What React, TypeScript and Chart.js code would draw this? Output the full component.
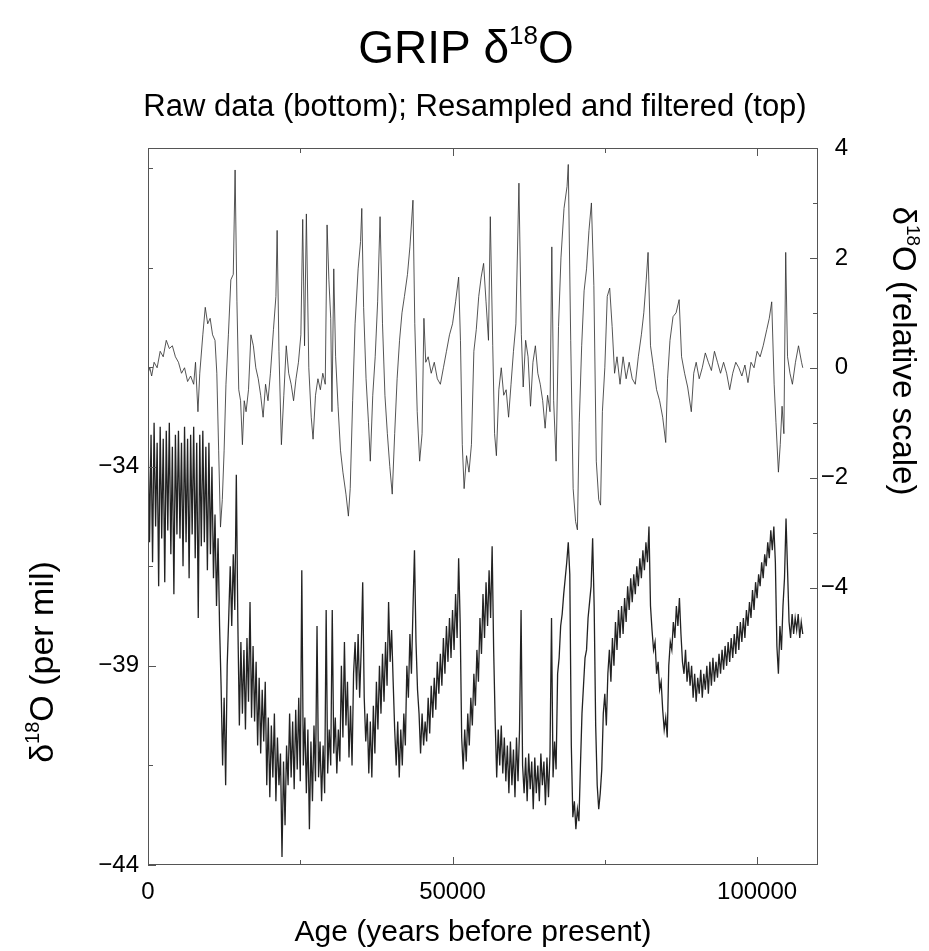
import React, { useEffect, useRef } from 'react';
import { Chart, registerables } from 'chart.js';

Chart.register(...registerables);

const FONT = '"Liberation Sans", Arial, Helvetica, sans-serif';

// Raw GRIP d18O (per mil), sampled every RAW_STEP_YEARS from 0 yr BP
const RAW_STEP_YEARS = 250;
const rawD18O = [
  -33.0, -35.9, -33.2, -36.4, -32.9, -35.5, -33.4, -37.0, -33.0, -35.8, -33.3, -36.9, -33.1, -35.6, -32.9, -36.2, -33.5, -37.2, -33.2, -35.7,
  -33.1, -35.8, -33.4, -36.5, -33.0, -35.9, -33.3, -36.8, -33.2, -35.7, -33.0, -36.3, -33.4, -37.8, -33.2, -36.0, -33.1, -35.9, -33.5, -36.6,
  -33.4, -36.2, -34.0, -36.8, -35.2, -37.5, -35.8, -38.0, -39.5, -41.5, -39.8, -42.0, -39.0, -37.8, -36.5, -38.0, -36.2, -37.6, -34.2, -37.9,
  -40.5, -38.4, -40.2, -38.6, -40.6, -38.3, -39.9, -37.4, -40.3, -38.5, -40.4, -38.9, -41.0, -39.3, -41.2, -39.6, -40.9, -39.4, -42.0, -40.3,
  -42.3, -40.5, -41.8, -40.2, -42.4, -40.8, -42.0, -41.2, -43.8, -41.4, -43.0, -41.0, -42.0, -40.2, -41.8, -40.4, -42.1, -40.1, -41.6, -39.8,
  -41.9, -36.6, -41.5, -40.3, -42.2, -40.6, -43.1, -40.9, -42.4, -40.5, -41.9, -38.0, -41.8, -40.9, -42.4, -41.0, -42.2, -37.6, -41.7, -40.6,
  -41.5, -37.6, -41.2, -40.3, -41.7, -40.6, -41.4, -39.0, -40.8, -38.4, -40.5, -39.4, -41.3, -40.0, -41.5, -39.2, -38.4, -39.6, -38.2, -39.8,
  -38.6, -36.9, -39.8, -40.9, -40.2, -41.7, -40.4, -41.8, -40.0, -41.2, -39.4, -40.6, -39.0, -40.2, -38.7, -39.9, -38.4, -39.5, -37.4, -38.9,
  -38.1, -39.4, -40.6, -41.5, -40.4, -41.8, -40.6, -41.5, -40.2, -41.0, -39.0, -39.8, -38.2, -39.2, -37.6, -36.1, -38.4, -39.6, -40.2, -41.2,
  -40.2, -41.0, -40.4, -40.9, -39.8, -40.7, -39.5, -40.3, -39.3, -40.1, -38.9, -39.7, -38.7, -39.5, -38.3, -39.2, -38.0, -38.9, -37.8, -38.8,
  -37.6, -38.6, -37.2, -38.3, -36.3, -37.9, -40.8, -41.6, -40.6, -41.4, -40.2, -41.0, -39.8, -40.5, -39.2, -40.0, -38.6, -39.4, -37.8, -38.7,
  -37.2, -38.3, -36.9, -38.0, -36.6, -37.8, -36.0, -38.6, -40.4, -41.8, -40.6, -41.5, -40.5, -41.7, -40.8, -41.9, -41.0, -42.2, -40.9, -42.0,
  -41.1, -42.3, -40.8, -41.9, -40.6, -37.6, -41.5, -42.2, -41.3, -42.4, -41.2, -42.1, -41.4, -42.6, -41.3, -42.2, -41.5, -42.4, -41.2, -42.0,
  -41.4, -42.5, -41.3, -42.3, -41.2, -37.8, -41.8, -40.9, -41.6, -39.2, -38.8, -38.0, -37.7, -37.2, -36.8, -36.4, -35.9, -36.7, -41.0, -42.8,
  -42.4, -43.1, -42.6, -42.9, -41.5, -40.2, -39.5, -38.8, -38.6, -37.8, -37.4, -37.0, -35.8, -37.5, -40.5, -42.0, -42.6, -42.2, -41.6, -40.2,
  -39.7, -40.5, -39.2, -38.6, -39.4, -38.3, -39.0, -37.9, -38.6, -37.6, -38.3, -37.5, -38.2, -37.3, -37.9, -37.0, -37.6, -36.8, -37.4, -36.7,
  -37.2, -36.5, -37.0, -36.3, -36.8, -36.1, -36.6, -35.9, -36.4, -35.5, -37.5, -38.1, -38.6, -38.4, -39.2, -38.9, -39.6, -39.4, -40.1, -40.6,
  -40.3, -40.8, -39.0, -38.4, -38.6, -37.9, -38.3, -37.5, -38.0, -37.3, -38.2, -38.9, -39.2, -38.6, -39.4, -38.9, -39.5, -39.0, -39.8, -39.2,
  -39.9, -39.3, -39.7, -39.1, -39.8, -39.2, -39.6, -39.0, -39.7, -38.9, -39.5, -38.8, -39.4, -38.9, -39.3, -38.7, -39.2, -38.6, -39.1, -38.5,
  -39.0, -38.4, -38.9, -38.3, -38.8, -38.2, -38.7, -38.0, -38.6, -37.9, -38.4, -37.8, -38.3, -37.6, -38.0, -37.4, -37.8, -37.1, -37.6, -36.9,
  -37.3, -36.7, -37.0, -36.4, -36.8, -36.2, -36.5, -35.9, -36.3, -35.6, -36.1, -35.5, -36.4, -38.5, -39.2, -38.0, -38.6, -37.5, -36.8, -35.3,
  -36.6, -37.9, -38.3, -37.7, -38.2, -37.8, -38.1, -37.7, -38.3, -37.9, -38.2,
];

// Resampled & filtered series (relative scale), ages in kyr BP
const filtAgeKa = [
  0, 0.3, 0.6, 1.0, 1.5, 2.0, 2.5, 3.0, 3.5, 4.0,
  4.5, 5.0, 5.5, 6.0, 6.5, 7.0, 7.5, 7.8, 8.2, 8.5,
  9.0, 9.4, 9.8, 10.2, 10.6, 11.0, 11.3, 11.6, 11.9, 12.2,
  12.5, 12.8, 13.2, 13.6, 14.0, 14.3, 14.6, 14.9, 15.2, 15.5,
  15.8, 16.1, 16.5, 16.9, 17.3, 17.7, 18.1, 18.5, 18.9, 19.3,
  19.7, 20.1, 20.6, 21.0, 21.2, 21.5, 21.9, 22.3, 22.7, 23.1,
  23.5, 23.9, 24.3, 24.7, 25.1, 25.4, 25.7, 26.0, 26.4, 26.8,
  27.1, 27.5, 27.9, 28.3, 28.7, 29.1, 29.4, 29.7, 30.0, 30.2,
  30.5, 30.8, 31.2, 31.6, 32.0, 32.5, 32.9, 33.2, 33.6, 34.0,
  34.5, 34.9, 35.1, 35.4, 35.8, 36.2, 36.5, 36.9, 37.3, 37.7,
  38.1, 38.5, 38.9, 39.3, 39.7, 40.1, 40.5, 40.9, 41.3, 41.7,
  42.1, 42.6, 43.0, 43.5, 43.8, 44.2, 44.6, 45.0, 45.3, 45.6,
  46.0, 46.5, 47.0, 47.5, 48.0, 48.5, 49.0, 49.5, 50.0, 50.5,
  51.0, 51.3, 51.6, 51.9, 52.3, 52.7, 53.1, 53.5, 53.9, 54.3,
  54.7, 55.1, 55.5, 55.9, 56.2, 56.6, 56.9, 57.2, 57.6, 58.0,
  58.4, 58.8, 59.2, 59.6, 60.0, 60.4, 60.9, 61.3, 61.6, 62.0,
  62.4, 62.8, 63.2, 63.6, 64.0, 64.4, 64.8, 65.2, 65.6, 66.0,
  66.3, 66.6, 67.0, 67.4, 67.8, 68.3, 68.8, 69.0, 69.4, 69.8,
  70.2, 70.5, 70.8, 71.2, 71.6, 72.0, 72.4, 72.8, 73.2, 73.6,
  74.0, 74.3, 74.6, 75.0, 75.4, 75.8, 76.2, 76.6, 77.0, 77.5,
  78.0, 78.5, 79.0, 79.5, 80.0, 80.5, 81.0, 81.4, 81.8, 82.1,
  82.5, 83.0, 83.5, 84.0, 84.5, 85.0, 85.3, 85.7, 86.2, 86.7,
  87.2, 87.6, 88.1, 88.6, 89.2, 89.6, 90.0, 90.5, 91.0, 91.5,
  92.0, 92.5, 93.0, 93.5, 94.0, 94.5, 95.0, 95.5, 96.0, 96.5,
  97.0, 97.5, 98.0, 98.5, 99.0, 99.5, 100.0, 100.5, 101.0, 101.6,
  102.0, 102.4, 102.8, 103.1, 103.5, 103.8, 104.1, 104.4, 104.7, 105.0,
  105.4, 105.8, 106.3, 106.8, 107.3, 107.5,
];
const filtRel = [
  -0.1, 0.0, -0.15, 0.1, 0.0, 0.3, 0.2, 0.5, 0.35, 0.4,
  0.2, 0.1, -0.1, 0.0, -0.25, -0.15, -0.3, 0.1, -0.8, -0.1,
  0.6, 1.1, 0.8, 0.9, 0.6, 0.5, -0.1, -1.5, -2.9, -2.4,
  -1.5, -0.3, 0.6, 1.6, 1.7, 3.6, 1.2, -0.4, -0.6, -1.4,
  -0.6, -0.8, -0.4, 0.6, 0.4, 0.0, -0.2, -0.5, -0.9, -0.3,
  -0.6, -0.1, 0.7, 1.3, 2.5, 0.3, -1.4, -0.5, 0.4, -0.1,
  -0.3, -0.6, -0.2, 0.1, 0.6, 2.7, 0.4, 2.8, 0.0, -0.9,
  -1.3, -0.5, -0.2, -0.4, -0.1, -0.3, 2.6, 1.6, 0.9, -0.8,
  1.8, 0.2, -0.7, -1.5, -1.9, -2.3, -2.7, -2.2, -0.6, 0.8,
  1.8, 2.3, 2.9, 1.1, -0.2, -1.0, -1.7, -0.5, 0.2, 1.2,
  2.75, 0.8, -0.5, -1.2, -1.8, -2.3, -1.2, -0.2, 0.5, 1.0,
  1.3, 1.7, 2.2, 3.05, 0.8, -0.8, -1.7, -1.2, 0.9, 0.1,
  0.2, -0.1, 0.1, -0.2, -0.3, 0.0, 0.3, 0.6, 0.8, 1.2,
  1.65, 0.5, -1.4, -2.2, -1.6, -1.9, -1.4, 0.3, 0.7, 1.3,
  1.65, 1.9, 1.2, 0.5, 2.75, 0.4, -1.2, -1.6, -0.4, 0.0,
  -0.5, -0.4, -0.9, -0.3, 0.3, 0.8, 3.36, 0.6, -0.35, 0.5,
  0.2, -0.7, 0.1, 0.4, -0.1, -0.3, -0.6, -1.1, -0.5, -0.8,
  2.2, -0.6, -1.7, 0.75, 2.0, 2.9, 3.3, 3.7, 0.5, -2.2,
  -2.8, -2.95, -1.0, 0.4, 1.4, 1.8, 2.5, 3.0, 1.5, -1.7,
  -2.4, -2.5, -0.8, 0.0, 1.3, 1.45, 0.75, -0.1, 0.2, -0.3,
  0.2, -0.2, 0.1, -0.2, -0.3, 0.2, 0.6, 1.0, 1.6, 2.1,
  0.4, 0.0, -0.4, -0.6, -0.9, -1.36, -0.2, 0.5, 0.93, 1.0,
  1.24, 0.2, -0.1, -0.35, -0.8, -0.1, 0.1, -0.2, 0.0, 0.27,
  0.1, -0.05, 0.3, 0.1, -0.1, 0.1, -0.1, -0.4, -0.1, 0.1,
  0.0, -0.15, 0.05, -0.27, 0.1, 0.0, 0.3, 0.2, 0.4, 0.7,
  0.9, 1.2, -0.3, -1.0, -1.9, -1.4, -0.7, -1.2, 2.1, 0.2,
  -0.1, -0.3, 0.1, 0.4, 0.1, 0.0,
];

// Axis ticks
const xTickLabels = [0, 50000, 100000];
const xTickMarks = [0, 25000, 50000, 75000, 100000];
const leftTickLabels = [-34, -39, -44];
const leftTickMarks = [-44, -41.5, -39, -36.5, -34, -31.5, -29, -26.5];
const rightTickLabels = [4, 2, 0, -2, -4];
const rightTickMarks = [4, 3, 2, 1, 0, -1, -2, -3, -4];

const fmtNum = (v: number) => (v < 0 ? '\u2212' + Math.abs(v) : String(v));

type Part = [string, number, number];
function drawRich(ctx: CanvasRenderingContext2D, parts: Part[], x: number, y: number) {
  let w = 0;
  for (const p of parts) {
    ctx.font = `${p[1]}px ${FONT}`;
    w += ctx.measureText(p[0]).width;
  }
  let cx = x - w / 2;
  for (const p of parts) {
    ctx.font = `${p[1]}px ${FONT}`;
    ctx.fillText(p[0], cx, y - p[2]);
    cx += ctx.measureText(p[0]).width;
  }
}

const decorPlugin = {
  id: 'gripDecor',
  afterDraw(chart: any) {
    const { ctx, chartArea: a, scales } = chart;
    ctx.save();
    ctx.strokeStyle = '#555';
    ctx.lineWidth = 1;
    ctx.strokeRect(a.left + 0.5, a.top + 0.5, a.right - a.left - 1, a.bottom - a.top - 1);
    ctx.beginPath();
    for (const v of xTickMarks) {
      const px = Math.round(scales.x.getPixelForValue(v)) + 0.5;
      const len = xTickLabels.includes(v) ? 8 : 5;
      ctx.moveTo(px, a.bottom);
      ctx.lineTo(px, a.bottom - len);
      ctx.moveTo(px, a.top);
      ctx.lineTo(px, a.top + len);
    }
    for (const v of leftTickMarks) {
      const py = Math.round(scales.y.getPixelForValue(v)) + 0.5;
      const len = leftTickLabels.includes(v) ? 8 : 5;
      ctx.moveTo(a.left, py);
      ctx.lineTo(a.left + len, py);
    }
    for (const v of rightTickMarks) {
      const py = Math.round(scales.y2.getPixelForValue(v)) + 0.5;
      const len = rightTickLabels.includes(v) ? 8 : 5;
      ctx.moveTo(a.right, py);
      ctx.lineTo(a.right - len, py);
    }
    ctx.stroke();

    ctx.fillStyle = '#000';
    ctx.textBaseline = 'alphabetic';
    ctx.textAlign = 'left';
    drawRich(ctx, [['GRIP \u03b4', 46, 0], ['18', 26, 19], ['O', 46, 0]], 466, 63);
    drawRich(ctx, [['Raw data (bottom); Resampled and filtered (top)', 31, 0]], 475, 116);
    drawRich(ctx, [['Age (years before present)', 30, 0]], 473, 941);

    ctx.save();
    ctx.translate(53, 662);
    ctx.rotate(-Math.PI / 2);
    drawRich(ctx, [['\u03b4', 34, 0], ['18', 20, 14], ['O (per mil)', 34, 0]], 0, 0);
    ctx.restore();

    ctx.save();
    ctx.translate(893, 351);
    ctx.rotate(Math.PI / 2);
    drawRich(ctx, [['\u03b4', 33, 0], ['18', 19, 14], ['O (relative scale)', 33, 0]], 0, 0);
    ctx.restore();
    ctx.restore();
  },
};

export default function App() {
  const ref = useRef<HTMLCanvasElement | null>(null);
  useEffect(() => {
    if (!ref.current) return;
    const rawPts = rawD18O.map((v, i) => ({ x: i * RAW_STEP_YEARS, y: v }));
    const filtPts = filtAgeKa.map((a, i) => ({ x: a * 1000, y: filtRel[i] }));
    const tickFont = { family: FONT, size: 24 };
    const chart = new Chart(ref.current, {
      type: 'line',
      data: {
        datasets: [
          {
            label: 'Raw data',
            data: rawPts,
            yAxisID: 'y',
            borderColor: 'rgba(10,10,10,0.9)',
            borderWidth: 1.3,
            pointRadius: 0,
            tension: 0,
          },
          {
            label: 'Resampled and filtered',
            data: filtPts,
            yAxisID: 'y2',
            borderColor: 'rgba(45,45,45,0.9)',
            borderWidth: 0.9,
            pointRadius: 0,
            tension: 0,
          },
        ],
      },
      options: {
        responsive: false,
        animation: false,
        events: [],
        layout: { padding: { top: 148, left: 0, right: 81, bottom: 0 } },
        plugins: { legend: { display: false }, title: { display: false }, tooltip: { enabled: false } },
        scales: {
          x: {
            type: 'linear',
            min: 0,
            max: 110000,
            afterBuildTicks: (s: any) => { s.ticks = xTickLabels.map((v) => ({ value: v })); },
            afterFit: (s: any) => { s.height = 86; },
            grid: { display: false, drawTicks: false },
            border: { display: false },
            ticks: { font: tickFont, color: '#000', padding: 13, maxRotation: 0, autoSkip: false, callback: (v: any) => String(v) },
          },
          y: {
            type: 'linear',
            position: 'left',
            min: -44,
            max: -26,
            afterBuildTicks: (s: any) => { s.ticks = leftTickLabels.map((v) => ({ value: v })); },
            afterFit: (s: any) => { s.width = 148; },
            grid: { display: false, drawTicks: false },
            border: { display: false },
            ticks: { font: tickFont, color: '#000', padding: 9, autoSkip: false, callback: (v: any) => fmtNum(Number(v)) },
          },
          y2: {
            type: 'linear',
            position: 'right',
            min: -9.05,
            max: 4,
            afterBuildTicks: (s: any) => { s.ticks = rightTickLabels.map((v) => ({ value: v })); },
            afterFit: (s: any) => { s.width = 30; },
            grid: { display: false, drawTicks: false },
            border: { display: false },
            ticks: { font: tickFont, color: '#000', padding: 0, crossAlign: 'far', autoSkip: false, callback: (v: any) => fmtNum(Number(v)) },
          },
        },
      },
      plugins: [decorPlugin],
    } as any);
    return () => chart.destroy();
  }, []);
  return (
    <div style={{ position: 'fixed', left: 0, top: 0, width: 929, height: 951, background: '#fff' }}>
      <canvas ref={ref} width={929} height={951} style={{ display: 'block', width: 929, height: 951 }} />
    </div>
  );
}
